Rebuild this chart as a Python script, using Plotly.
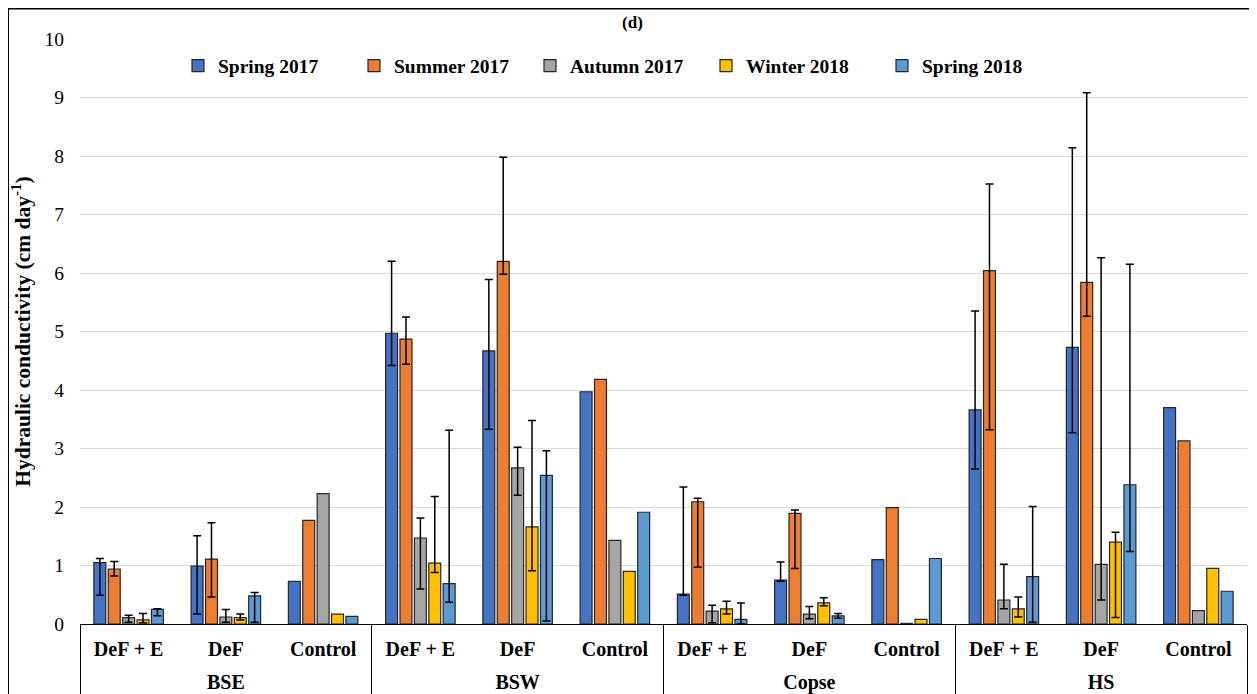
import plotly.graph_objects as go

# sites (outer category level) and treatments (inner level)
sites = ["BSE", "BSW", "Copse", "HS"]
treatments = ["DeF + E", "DeF", "Control"]
seasons = ["Spring 2017", "Summer 2017", "Autumn 2017", "Winter 2018", "Spring 2018"]
colors = ["#4472C4", "#ED7D31", "#A5A5A5", "#FFC000", "#5B9BD5"]

# hydraulic conductivity (cm/day), site-major order: DeF+E, DeF, Control for each site
spring_2017 = [1.05, 0.99, 0.73, 4.97, 4.67, 3.97, 0.51, 0.75, 1.10, 3.66, 4.73, 3.70]
summer_2017 = [0.94, 1.11, 1.77, 4.87, 6.20, 4.18, 2.09, 1.89, 1.99, 6.04, 5.84, 3.13]
autumn_2017 = [0.11, 0.12, 2.23, 1.47, 2.67, 1.43, 0.22, 0.17, 0.01, 0.41, 1.02, 0.23]
winter_2018 = [0.07, 0.11, 0.17, 1.04, 1.66, 0.90, 0.26, 0.36, 0.08, 0.26, 1.40, 0.95]
spring_2018 = [0.25, 0.48, 0.13, 0.69, 2.54, 1.91, 0.08, 0.14, 1.12, 0.81, 2.38, 0.56]

# error bars (up / down amounts); Control plots have none
spring_2017_up = [0.07, 0.52, None, 1.23, 1.22, None, 1.83, 0.31, None, 1.69, 3.41, None]
spring_2017_dn = [0.56, 0.82, None, 0.55, 1.34, None, 0.02, 0.02, None, 1.01, 1.46, None]
summer_2017_up = [0.13, 0.62, None, 0.38, 1.78, None, 0.06, 0.06, None, 1.48, 3.24, None]
summer_2017_dn = [0.12, 0.65, None, 0.43, 0.22, None, 1.12, 0.94, None, 2.72, 0.58, None]
autumn_2017_up = [0.04, 0.13, None, 0.34, 0.35, None, 0.10, 0.13, None, 0.61, 5.24, None]
autumn_2017_dn = [0.08, 0.09, None, 0.87, 0.47, None, 0.20, 0.08, None, 0.15, 0.61, None]
winter_2018_up = [0.11, 0.06, None, 1.14, 1.82, None, 0.13, 0.09, None, 0.20, 0.17, None]
winter_2018_dn = [0.05, 0.04, None, 0.16, 0.75, None, 0.09, 0.05, None, 0.14, 1.29, None]
spring_2018_up = [0.01, 0.06, None, 2.62, 0.42, None, 0.28, 0.04, None, 1.20, 3.77, None]
spring_2018_dn = [0.11, 0.45, None, 0.32, 2.49, None, 0.08, 0.04, None, 0.78, 1.14, None]

values = [spring_2017, summer_2017, autumn_2017, winter_2018, spring_2018]
errs_up = [spring_2017_up, summer_2017_up, autumn_2017_up, winter_2018_up, spring_2018_up]
errs_dn = [spring_2017_dn, summer_2017_dn, autumn_2017_dn, winter_2018_dn, spring_2018_dn]

# axis labels: text drawn at 20px, the site row pushed down with a short blank line
LABEL = "<span style='font-size:20px'>{}</span>"
x_outer = ["<br>" + LABEL.format(s) for s in sites for _ in treatments]
x_inner = [LABEL.format(t) for _ in sites for t in treatments]

FONT = "Times New Roman, Liberation Serif, serif"
# the page body has an 8px margin, so the figure is drawn 8px smaller
W, H = 1249, 686
L, R, T, B = 72, 10, 31, 70
PW, PH = W - L - R, H - T - B

fig = go.Figure()
for name, color, vals, up, dn in zip(seasons, colors, values, errs_up, errs_dn):
    has_err = [e is not None for e in up]
    # bars with error bars (treated plots)
    fig.add_trace(
        go.Bar(
            x=[x_outer, x_inner],
            y=[v if h else None for v, h in zip(vals, has_err)],
            name=name,
            offsetgroup=name,
            legendgroup=name,
            marker=dict(color=color, line=dict(color="#262626", width=1.2)),
            error_y=dict(
                type="data",
                symmetric=False,
                array=[e if e is not None else 0 for e in up],
                arrayminus=[e if e is not None else 0 for e in dn],
                color="black",
                thickness=1.5,
                width=4,
            ),
        )
    )
    # control bars, no error bars
    ctrl_x = [[o for o, h in zip(x_outer, has_err) if not h],
              [i for i, h in zip(x_inner, has_err) if not h]]
    fig.add_trace(
        go.Bar(
            x=ctrl_x,
            y=[v for v, h in zip(vals, has_err) if not h],
            name=name,
            offsetgroup=name,
            legendgroup=name,
            showlegend=False,
            marker=dict(color=color, line=dict(color="#262626", width=1.2)),
        )
    )

fig.update_layout(
    width=W,
    height=H,
    margin=dict(l=L, r=R, t=T, b=B),
    paper_bgcolor="white",
    plot_bgcolor="white",
    barmode="group",
    bargap=0.26,
    bargroupgap=0.17,
    font=dict(family=FONT, color="black"),
    title=dict(
        text="<b>(d)</b>",
        x=0.5,
        xanchor="center",
        y=1 - 14 / H,
        yanchor="middle",
        font=dict(family=FONT, size=17, color="black"),
    ),
    legend=dict(
        orientation="h",
        x=(170 - L) / PW,
        xanchor="left",
        y=(H - B - 58) / PH,
        yanchor="middle",
        entrywidth=131,
        entrywidthmode="pixels",
        font=dict(family=FONT, size=19.5, weight="bold", color="black"),
        bgcolor="rgba(0,0,0,0)",
    ),
    xaxis=dict(
        type="multicategory",
        automargin=False,
        showline=True,
        linecolor="black",
        linewidth=1,
        showgrid=False,
        ticks="",
        ticklabelstandoff=12,
        showdividers=True,
        dividercolor="black",
        dividerwidth=1,
        tickfont=dict(family=FONT, size=16, weight="bold", color="black"),
    ),
    yaxis=dict(
        range=[0, 10],
        dtick=1,
        automargin=False,
        showgrid=True,
        gridcolor="#d9d9d9",
        gridwidth=1.3,
        zeroline=False,
        showline=False,
        ticks="",
        ticklabelstandoff=15,
        tickfont=dict(family=FONT, size=19.5, color="black"),
        title=dict(
            text="Hydraulic conductivity (cm day<sup>-1</sup>)",
            standoff=12,
            font=dict(family=FONT, size=21.5, weight="bold", color="black"),
        ),
    ),
    shapes=[
        dict(
            type="rect",
            xref="paper",
            yref="paper",
            x0=(0 - L) / PW,
            x1=(1242 - L) / PW,
            y0=-(B + 10) / PH,
            y1=(H - B - 0.5) / PH,
            line=dict(color="black", width=2),
            fillcolor="rgba(0,0,0,0)",
            layer="above",
        )
    ],
)

fig.write_html("out.html")
